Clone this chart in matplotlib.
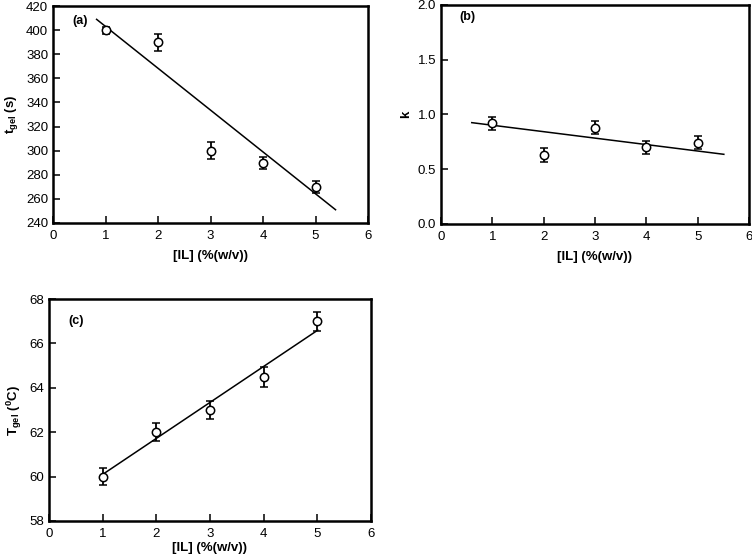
import numpy as np
import matplotlib
matplotlib.use('Agg')
import matplotlib.pyplot as plt

plt.rcParams['font.family'] = ['Liberation Sans', 'DejaVu Sans']
plt.rcParams['mathtext.fontset'] = 'custom'
plt.rcParams['mathtext.rm'] = 'Liberation Sans:bold'
plt.rcParams['mathtext.it'] = 'Liberation Sans:bold'
plt.rcParams['mathtext.bf'] = 'Liberation Sans:bold'

# data
il = [1, 2, 3, 4, 5]

tgel = [400, 390, 300, 290, 270]
tgel_err = [3, 7, 7, 5, 5]
tgel_fit_x = [0.83, 5.38]
tgel_fit_y = [409, 251]

k = [0.92, 0.63, 0.88, 0.70, 0.74]
k_err = [0.06, 0.06, 0.06, 0.06, 0.06]
k_fit_x = [0.60, 5.51]
k_fit_y = [0.925, 0.636]

Tgel = [60.0, 62.0, 63.0, 64.5, 67.0]
Tgel_err = [0.4, 0.4, 0.4, 0.45, 0.42]
Tgel_fit_x = [1.0, 5.01]
Tgel_fit_y = [60.1, 66.6]

fig = plt.figure(figsize=(7.52, 5.59), dpi=100)
ax_a = fig.add_axes([0.0705, 0.6011, 0.419, 0.388])
ax_b = fig.add_axes([0.5864, 0.5993, 0.4096, 0.392])
ax_c = fig.add_axes([0.0652, 0.068, 0.428, 0.397])

def panel(ax, y, yerr, fx, fy, ylim, yticks, ylabel, tag, tag_y, yfmt, xpad):
    ax.plot(fx, fy, '-', color='black', lw=1.1)
    ax.errorbar(il, y, yerr=yerr, fmt='o', mfc='white', mec='black', ms=6,
                mew=1.1, ecolor='black', elinewidth=1.3, capsize=3, capthick=1.3,
                zorder=3)
    ax.set_xlim(0, 6)
    ax.set_ylim(*ylim)
    ax.set_xticks(range(0, 7))
    ax.set_yticks(yticks)
    ax.set_yticklabels([yfmt % v for v in yticks])
    ax.tick_params(direction='in', length=5, width=1.1, labelsize=9.5,
                   top=False, right=False)
    ax.tick_params(axis='x', pad=5)
    for s in ax.spines.values():
        s.set_linewidth(1.8)
    ax.set_xlabel('[IL] (%(w/v))', fontsize=9.5, fontweight='bold', labelpad=xpad)
    ax.set_ylabel(ylabel, fontsize=9.5, fontweight='bold', labelpad=4)
    ax.text(0.06, tag_y, tag, transform=ax.transAxes, fontsize=9,
            fontweight='bold', va='center')

panel(ax_a, tgel, tgel_err, tgel_fit_x, tgel_fit_y, (240, 420),
      np.arange(240, 421, 20), r'$\mathrm{t}_{\mathrm{gel}}$ (s)', '(a)', 0.93, '%d', 6)
panel(ax_b, k, k_err, k_fit_x, k_fit_y, (0, 2.0),
      np.arange(0, 2.01, 0.5), 'k', '(b)', 0.945, '%.1f', 6)
panel(ax_c, Tgel, Tgel_err, Tgel_fit_x, Tgel_fit_y, (58, 68),
      np.arange(58, 69, 2), r'$\mathrm{T}_{\mathrm{gel}}$ ($^{0}$C)', '(c)', 0.90, '%d', 1.5)

fig.savefig('out.png', dpi=100)
